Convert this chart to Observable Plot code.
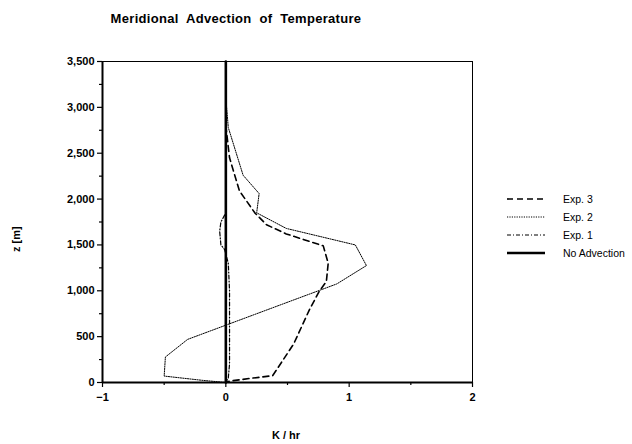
<!DOCTYPE html>
<html>
<head>
<meta charset="utf-8">
<script src="https://cdn.jsdelivr.net/npm/d3@7"></script>
<script src="https://cdn.jsdelivr.net/npm/@observablehq/plot@0.6"></script>
<style>
  html, body { margin: 0; padding: 0; background: #fff; }
  #wrap { position: relative; width: 632px; height: 444px; font-family: "Liberation Sans", Arial, sans-serif; color: #000; }
  #wrap > svg { position: absolute; left: 0; top: 0; }
  .title { position: absolute; left: 0; width: 472px; top: 11px; text-align: center; font-weight: bold; font-size: 13px; word-spacing: 4px; letter-spacing: 0.3px; }
  .xlab { position: absolute; left: 236px; width: 100px; top: 429px; text-align: center; font-weight: bold; font-size: 11px; }
  .ylab { position: absolute; left: 10px; top: 252px; font-weight: bold; font-size: 11px; transform: rotate(-90deg); transform-origin: 0 0; white-space: nowrap; }
  .legend { position: absolute; left: 506px; top: 190px; font-size: 10.5px; }
  .legend .row { display: flex; align-items: center; height: 18px; }
  #wrap .legend svg { position: static; margin-right: 17px; display: block; }
</style>
</head>
<body>
<div id="wrap"></div>
<script>
// ---- data ----
const exp3X = [0.00, 0.03, 0.11, 0.235, 0.33, 0.49, 0.79, 0.83, 0.815, 0.76, 0.68, 0.55, 0.38, 0.20, 0.03, 0.00];
const exp3Z = [2800, 2450, 2090, 1850, 1720, 1620, 1490, 1300, 1100, 1000, 800, 420, 75, 45, 15, 0];

const exp2X = [0.00, 0.02, 0.14, 0.27, 0.25, 0.49, 1.05, 1.14, 0.90, -0.31, -0.49, -0.50, -0.20, 0.00];
const exp2Z = [3100, 2780, 2260, 2060, 1850, 1680, 1500, 1275, 1075, 470, 278, 70, 25, 0];

const exp1X = [0.00, 0.00, -0.04, -0.05, -0.04, -0.01, 0.02, 0.03, 0.03, 0.03, 0.02, 0.00];
const exp1Z = [3100, 1850, 1750, 1650, 1500, 1450, 1300, 1000, 500, 200, 50, 0];

const noAdvX = [0, 0];
const noAdvZ = [0, 3500];

const yTicks = [0, 500, 1000, 1500, 2000, 2500, 3000, 3500];
const yMinor = [250, 750, 1250, 1750, 2250, 2750, 3250];
const xTicks = [-1, 0, 1, 2];
const xMinor = [-0.5, 0.5, 1.5];

const seriesNames = ["Exp. 3", "Exp. 2", "Exp. 1", "No Advection"];

// ---- styles ----
const styles = {
  "Exp. 3": {strokeWidth: 1.6, strokeDasharray: "6,4"},
  "Exp. 2": {strokeWidth: 1, strokeDasharray: "1.2,1.2"},
  "Exp. 1": {strokeWidth: 1.2, strokeDasharray: "4,2,1,2"},
  "No Advection": {strokeWidth: 2.6, strokeDasharray: null}
};

const toRows = (xs, zs) => xs.map((x, i) => ({x, z: zs[i]}));
const rows = {
  "Exp. 3": toRows(exp3X, exp3Z),
  "Exp. 2": toRows(exp2X, exp2Z),
  "Exp. 1": toRows(exp1X, exp1Z),
  "No Advection": toRows(noAdvX, noAdvZ)
};

const font = "Liberation Sans, Arial, sans-serif";
const fmtX = d => (d < 0 ? "\u2212" : "") + Math.abs(d);

const lineMarks = seriesNames.map(name =>
  Plot.line(rows[name], {x: "x", y: "z", stroke: "black", strokeWidth: styles[name].strokeWidth,
    strokeDasharray: styles[name].strokeDasharray, strokeLinejoin: "miter", curve: "linear"})
);

const chart = Plot.plot({
  width: 632,
  height: 444,
  marginLeft: 102,
  marginRight: 160,
  marginTop: 61,
  marginBottom: 62,
  style: {fontFamily: font, fontSize: "11px", background: "white", color: "black", overflow: "visible"},
  x: {domain: [-1, 2], axis: null},
  y: {domain: [0, 3500], axis: null},
  marks: [
    Plot.frame({stroke: "black", strokeWidth: 1}),
    Plot.axisY(yTicks, {tickSize: 5, tickPadding: 3, fontSize: 11, fontWeight: "bold", label: null, strokeWidth: 1.2, tickFormat: d3.format(",")}),
    Plot.axisY(yMinor, {tickSize: 3, text: null, label: null, strokeWidth: 1.2}),
    Plot.axisX(xTicks, {tickSize: 5, tickPadding: 6, fontSize: 11, fontWeight: "bold", label: null, strokeWidth: 1.2, tickFormat: fmtX}),
    Plot.axisX(xMinor, {tickSize: 3, text: null, label: null, strokeWidth: 1.2}),
    Plot.ruleX([-1], {stroke: "black", strokeWidth: 2}),
    Plot.ruleY([0], {stroke: "black", strokeWidth: 2}),
    ...lineMarks
  ]
});

const wrap = document.getElementById("wrap");
wrap.appendChild(chart);

const title = document.createElement("div");
title.className = "title";
title.textContent = "Meridional Advection of Temperature";
wrap.appendChild(title);

const xl = document.createElement("div");
xl.className = "xlab";
xl.textContent = "K / hr";
wrap.appendChild(xl);

const yl = document.createElement("div");
yl.className = "ylab";
yl.textContent = "z [m]";
wrap.appendChild(yl);

const legend = document.createElement("div");
legend.className = "legend";
for (const name of seriesNames) {
  const row = document.createElement("div");
  row.className = "row";
  const s = d3.create("svg").attr("width", 40).attr("height", 6);
  s.append("line").attr("x1", 1).attr("x2", 39).attr("y1", 3).attr("y2", 3)
    .attr("stroke", "black").attr("stroke-width", styles[name].strokeWidth)
    .attr("stroke-dasharray", styles[name].strokeDasharray);
  row.appendChild(s.node());
  const t = document.createElement("span");
  t.textContent = name;
  row.appendChild(t);
  legend.appendChild(row);
}
wrap.appendChild(legend);
</script>
</body>
</html>
